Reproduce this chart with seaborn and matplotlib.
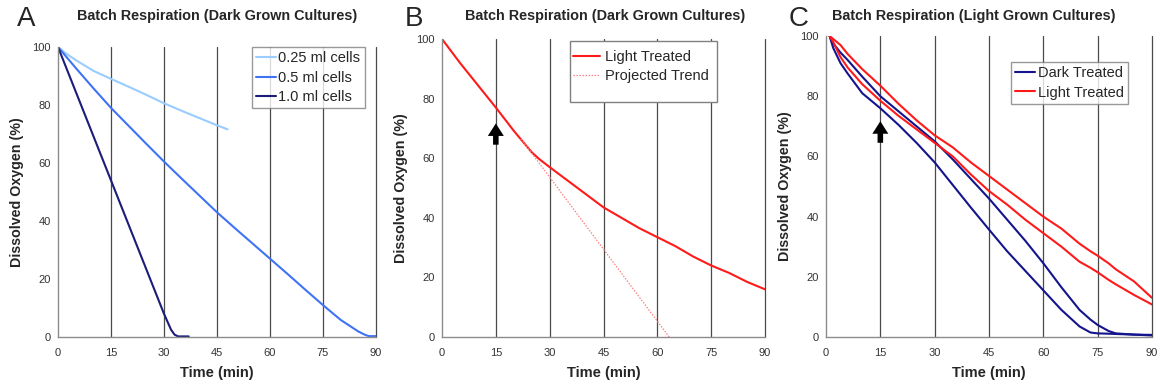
import numpy as np
import pandas as pd
import matplotlib
matplotlib.use("Agg")
import matplotlib.pyplot as plt
from matplotlib.patches import Rectangle
import seaborn as sns

sns.set_style("white")
plt.rcParams["font.family"] = ["Liberation Sans", "DejaVu Sans"]

# ---- Panel A: dark grown cultures, three cell volumes ----
a_t_025 = [0, 2, 5, 10, 15, 20, 25, 30, 35, 40, 45, 48]
a_y_025 = [100, 98, 95.5, 91.8, 89, 86.3, 83.5, 80.6, 78, 75.5, 73, 71.6]
a_t_05 = [0, 5, 10, 15, 20, 25, 30, 35, 40, 45, 50, 55, 60, 65, 70, 75, 80, 85, 87, 88, 90]
a_y_05 = [100, 92.8, 85.8, 79, 72.8, 66.6, 60.5, 54.6, 48.8, 43, 37.6, 32.3, 27, 21.7, 16.3, 11, 5.9, 1.9, 0.7, 0.3, 0.3]
a_t_10 = [0, 15, 30, 32, 33, 34, 37]
a_y_10 = [100, 54, 8, 2.5, 0.8, 0.2, 0.2]

# ---- Panel B: dark grown cultures, light treated ----
b_t_light = [0, 5, 10, 15, 20, 22, 25, 27, 30, 35, 40, 45, 50, 55, 60, 65, 70, 75, 80, 85, 90]
b_y_light = [100, 92, 84.5, 77, 69.2, 66.3, 62, 59.8, 57, 52.5, 48, 43.5, 40, 36.5, 33.5, 30.5, 27, 24, 21.5, 18.5, 16]
b_t_trend = [22, 63.3]
b_y_trend = [66.5, 0]

# ---- Panel C: light grown cultures, two replicates per treatment ----
c_t = [1, 2, 4, 6, 10, 15, 20, 25, 30, 35, 40, 45, 50, 55, 60, 65, 70, 73, 75, 78, 80, 85, 90]
c_dark1 = [100, 96, 91, 87.5, 81, 76, 70.5, 64.5, 58, 50.5, 43, 35.7, 28.5, 22, 15.5, 9, 3.5, 1.5, 1.2, 1.1, 1, 0.8, 0.7]
c_dark2 = [100, 97.5, 94.5, 92, 86.5, 80, 75, 70, 65, 59, 52.5, 46, 39, 32, 24.5, 16.5, 9, 5.8, 4, 2, 1.2, 0.8, 0.5]
c_light1 = [100, 99, 97, 94, 89, 83.5, 77.5, 72, 67, 63, 58, 53.5, 49, 44.5, 40, 36, 31, 28.5, 27, 24.5, 22.5, 18.5, 13]
c_light2 = [100, 98, 93, 89.5, 84, 78.5, 73.5, 69, 64.5, 60, 54, 48.5, 44, 39, 34.5, 30, 25, 23, 21.5, 19, 17.5, 14, 10.8]

x_ticks = [0, 15, 30, 45, 60, 75, 90]
y_ticks = [0, 20, 40, 60, 80, 100]

df_a = pd.concat([
    pd.DataFrame({"t": a_t_025, "o2": a_y_025, "s": "0.25 ml cells"}),
    pd.DataFrame({"t": a_t_05, "o2": a_y_05, "s": "0.5 ml cells"}),
    pd.DataFrame({"t": a_t_10, "o2": a_y_10, "s": "1.0 ml cells"}),
])
df_b = pd.concat([
    pd.DataFrame({"t": b_t_light, "o2": b_y_light, "s": "Light Treated"}),
    pd.DataFrame({"t": b_t_trend, "o2": b_y_trend, "s": "Projected Trend"}),
])
df_c = pd.concat([
    pd.DataFrame({"t": c_t, "o2": c_dark1, "s": "Dark Treated", "rep": 1}),
    pd.DataFrame({"t": c_t, "o2": c_dark2, "s": "Dark Treated", "rep": 2}),
    pd.DataFrame({"t": c_t, "o2": c_light1, "s": "Light Treated", "rep": 1}),
    pd.DataFrame({"t": c_t, "o2": c_light2, "s": "Light Treated", "rep": 2}),
])

W, H = 1161, 387
fig = plt.figure(figsize=(W / 100, H / 100), dpi=100)


def box(x0, y0, x1, y1):
    return [x0 / W, 1 - y1 / H, (x1 - x0) / W, (y1 - y0) / H]


ax_a = fig.add_axes(box(58, 47, 376, 337))
ax_b = fig.add_axes(box(442, 39, 765, 337))
ax_c = fig.add_axes(box(826, 36, 1152, 337))

grid_col = "#4a4a4a"
spine_col = "#8c8c8c"


def style_axes(ax):
    ax.set_xlim(0, 90)
    ax.set_ylim(0, 100)
    ax.set_xticks(x_ticks)
    ax.set_yticks(y_ticks)
    for x in x_ticks[1:]:
        ax.axvline(x, color=grid_col, lw=0.9, zorder=0, clip_on=False)
    for side in ("top", "right"):
        ax.spines[side].set_visible(False)
    for side in ("left", "bottom"):
        ax.spines[side].set_color(spine_col)
        ax.spines[side].set_linewidth(1.0)
    ax.tick_params(axis="both", direction="out", length=3, width=0.8,
                   color=spine_col, labelsize=8, labelcolor="#333333", pad=2)
    ax.tick_params(axis="x", pad=5)
    ax.set_xlabel("Time (min)", fontsize=10.5, fontweight="bold", labelpad=6)
    ax.set_ylabel("Dissolved Oxygen (%)", fontsize=10.3, fontweight="bold", labelpad=6)


def arrow(ax):
    ax.annotate("", xy=(15, 72.6), xytext=(15, 63.6),
                arrowprops=dict(arrowstyle="simple,head_length=0.9,head_width=1.15,tail_width=0.4",
                                color="black", lw=0), zorder=5)


leg_kw = dict(fancybox=False, edgecolor="#808080", fontsize=10.5,
              handlelength=1.35, handletextpad=0.18, borderpad=0.3, labelspacing=0.36,
              borderaxespad=0.0)

# Panel A
sns.lineplot(data=df_a, x="t", y="o2", hue="s", ax=ax_a, sort=False,
             palette={"0.25 ml cells": "#99ccff", "0.5 ml cells": "#3f73f5",
                      "1.0 ml cells": "#1c1c7a"}, lw=1.5)
style_axes(ax_a)
lg = ax_a.legend(loc="upper right", bbox_to_anchor=(0.965, 1.0), frameon=True, **leg_kw)
lg.get_frame().set_linewidth(1.0)

# Panel B
sns.lineplot(data=df_b, x="t", y="o2", hue="s", style="s", ax=ax_b, sort=False,
             palette={"Light Treated": "#ff1a1a", "Projected Trend": "#ff8080"},
             dashes={"Light Treated": "", "Projected Trend": (1.2, 1.2)}, lw=1.5)
for ln in ax_b.get_lines():
    if len(ln.get_xdata()) == 2:
        ln.set_linewidth(0.9)
style_axes(ax_b)
arrow(ax_b)
kw_b = dict(leg_kw)
kw_b.update(borderpad=0.0, handlelength=1.85, handletextpad=0.35, labelspacing=0.3)
lg = ax_b.legend(loc="upper left", bbox_to_anchor=(0.406, 0.962), frameon=False, **kw_b)
for h in lg.get_lines():
    if h.get_label() == "Projected Trend":
        h.set_linewidth(0.9)
ax_b.add_patch(Rectangle((0.396, 0.789), 0.455, 0.204, transform=ax_b.transAxes,
                         fill=True, facecolor="white", edgecolor="#808080", lw=1.0,
                         zorder=4, clip_on=False))
lg.set_zorder(6)

# Panel C
sns.lineplot(data=df_c, x="t", y="o2", hue="s", units="rep", estimator=None, ax=ax_c,
             sort=False, palette={"Dark Treated": "#14148c", "Light Treated": "#ff1a1a"}, lw=1.5)
style_axes(ax_c)
arrow(ax_c)
lg = ax_c.legend(loc="upper right", bbox_to_anchor=(0.926, 0.914), frameon=True, **leg_kw)
lg.get_frame().set_linewidth(1.0)

# Titles and panel letters
fig.text(217 / W, 1 - 16 / H, "Batch Respiration (Dark Grown Cultures)", ha="center", va="center",
         fontsize=10.4, fontweight="bold")
fig.text(605 / W, 1 - 16 / H, "Batch Respiration (Dark Grown Cultures)", ha="center", va="center",
         fontsize=10.4, fontweight="bold")
fig.text(974 / W, 1 - 16 / H, "Batch Respiration (Light Grown Cultures)", ha="center", va="center",
         fontsize=10.4, fontweight="bold")
for x, letter in ((26, "A"), (414, "B"), (799, "C")):
    fig.text(x / W, 1 - 19 / H, letter, ha="center", va="center", fontsize=20)

fig.savefig("out.png", dpi=100, facecolor="white")
